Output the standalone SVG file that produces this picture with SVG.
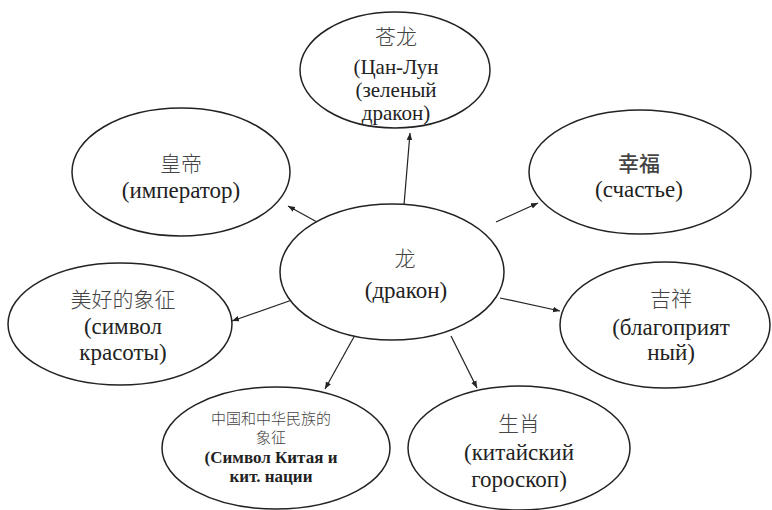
<svg xmlns="http://www.w3.org/2000/svg" width="772" height="510" viewBox="0 0 772 510">
<style>
.n{fill:#fff;stroke:#222;stroke-width:1.5}
.t{font-family:"Liberation Serif","Times New Roman","DejaVu Serif",serif;font-size:23px;fill:#222;text-anchor:middle}
.c{font-family:"Noto Sans CJK SC",sans-serif;font-size:21px;fill:#444;text-anchor:middle;font-weight:300}
.s{font-size:17px;font-weight:bold}
.m{font-size:21px}
.e{stroke:#222;stroke-width:1.2;fill:none;marker-end:url(#a)}
</style>
<defs>
<marker id="a" viewBox="0 0 10 10" refX="10" refY="5" markerWidth="7" markerHeight="7" orient="auto" markerUnits="userSpaceOnUse">
<path d="M0,1 L10,5 L0,9 z" fill="#222"/>
</marker>
</defs>
<rect width="772" height="510" fill="#fff"/>
<g id="edges">
<line class="e" x1="404" y1="205" x2="410" y2="133"/>
<line class="e" x1="317" y1="222" x2="288" y2="206"/>
<line class="e" x1="496" y1="222" x2="538" y2="203"/>
<line class="e" x1="292" y1="300" x2="232" y2="321"/>
<line class="e" x1="500" y1="298" x2="560" y2="311"/>
<line class="e" x1="355" y1="335" x2="325" y2="389"/>
<line class="e" x1="451" y1="336" x2="477" y2="388"/>
</g>
<g id="center">
<ellipse class="n" cx="392" cy="272" rx="112" ry="68"/>
<text class="c" x="405" y="266">龙</text>
<text class="t" x="406" y="298">(дракон)</text>
</g>
<g id="canglong">
<ellipse class="n" cx="395" cy="70" rx="95" ry="58"/>
<text class="c" x="396" y="44">苍龙</text>
<text class="t m" x="396" y="74">(Цан-Лун</text>
<text class="t m" x="396" y="97">(зеленый</text>
<text class="t m" x="396" y="120">дракон)</text>
</g>
<g id="huangdi">
<ellipse class="n" cx="181" cy="172" rx="109" ry="64"/>
<text class="c" x="181" y="171">皇帝</text>
<text class="t" x="181" y="198">(император)</text>
</g>
<g id="xingfu">
<ellipse class="n" cx="640" cy="172" rx="111" ry="62"/>
<text class="c" x="639" y="171" style="font-weight:500">幸福</text>
<text class="t" x="639" y="197">(счастье)</text>
</g>
<g id="meihao">
<ellipse class="n" cx="120" cy="324" rx="112" ry="61"/>
<text class="c" x="123" y="307">美好的象征</text>
<text class="t" x="123" y="334">(символ</text>
<text class="t" x="123" y="360">красоты)</text>
</g>
<g id="jixiang">
<ellipse class="n" cx="665" cy="325" rx="105" ry="63"/>
<text class="c" x="671" y="306">吉祥</text>
<text class="t" x="671" y="335">(благоприят</text>
<text class="t" x="671" y="360">ный)</text>
</g>
<g id="zhongguo">
<ellipse class="n" cx="276" cy="448" rx="114" ry="61"/>
<text class="c" x="271" y="424" style="font-size:15px">中国和中华民族的</text>
<text class="c" x="271" y="443" style="font-size:15px">象征</text>
<text class="t s" x="271" y="463">(Символ Китая и</text>
<text class="t s" x="271" y="482">кит. нации</text>
</g>
<g id="shengxiao">
<ellipse class="n" cx="519" cy="448" rx="111" ry="62"/>
<text class="c" x="519" y="431">生肖</text>
<text class="t" x="519" y="460">(китайский</text>
<text class="t" x="519" y="487">гороскоп)</text>
</g>
</svg>
